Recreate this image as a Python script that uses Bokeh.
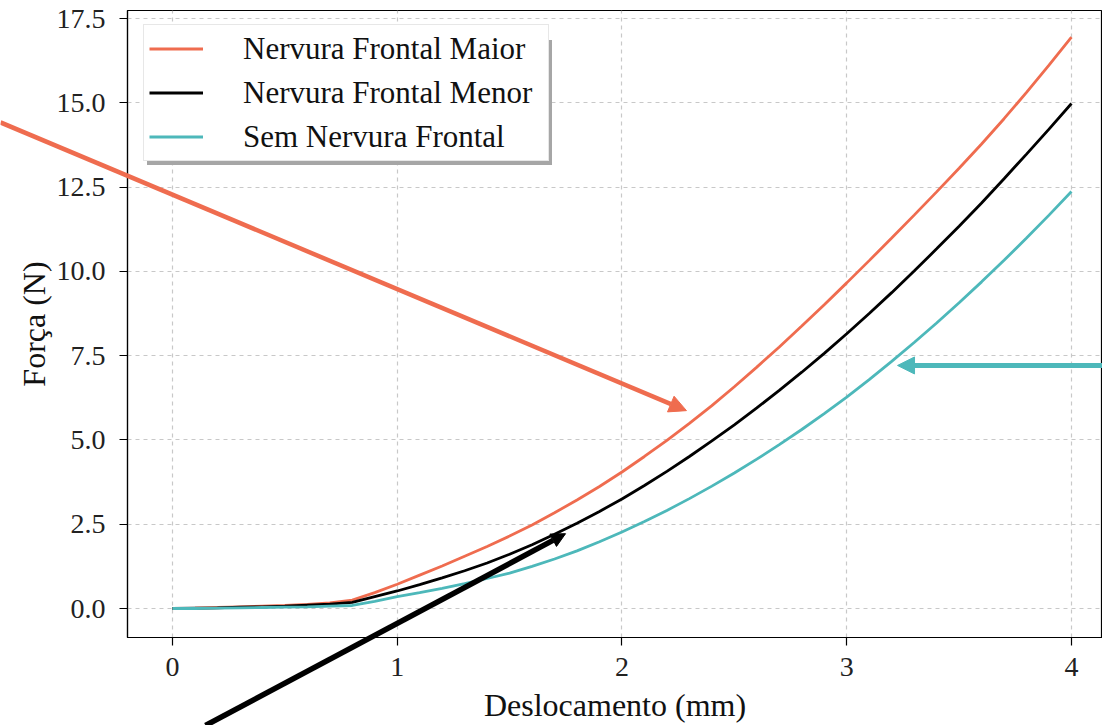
from bokeh.plotting import figure
from bokeh.models import (Arrow, NormalHead, Legend, LegendItem, FixedTicker,
                          NumeralTickFormatter, Range1d, GridBox)
from bokeh.embed import file_html
from bokeh.resources import INLINE

# ---- data ----
deslocamento = [0.0, 0.1, 0.2, 0.3, 0.4, 0.5, 0.6, 0.7, 0.8, 0.9,
                1.0, 1.1, 1.2, 1.3, 1.4, 1.5, 1.6, 1.7, 1.8, 1.9,
                2.0, 2.1, 2.2, 2.3, 2.4, 2.5, 2.6, 2.7, 2.8, 2.9,
                3.0, 3.1, 3.2, 3.3, 3.4, 3.5, 3.6, 3.7, 3.8, 3.9, 4.0]
nervura_maior = [0.00, 0.01, 0.03, 0.05, 0.07, 0.09, 0.12, 0.17, 0.25, 0.47,
                 0.72, 0.99, 1.26, 1.55, 1.84, 2.15, 2.48, 2.84, 3.22, 3.62,
                 4.05, 4.51, 4.99, 5.49, 6.02, 6.58, 7.16, 7.76, 8.38, 9.01,
                 9.66, 10.32, 10.99, 11.67, 12.36, 13.06, 13.78, 14.53, 15.31, 16.12, 16.95]
nervura_menor = [0.00, 0.01, 0.02, 0.04, 0.05, 0.07, 0.10, 0.13, 0.18, 0.35,
                 0.52, 0.71, 0.91, 1.12, 1.35, 1.61, 1.89, 2.20, 2.53, 2.88,
                 3.25, 3.65, 4.07, 4.51, 4.97, 5.45, 5.95, 6.47, 7.01, 7.57,
                 8.15, 8.75, 9.37, 10.01, 10.67, 11.34, 12.03, 12.75, 13.48, 14.22, 14.98]
sem_nervura = [0.00, 0.00, 0.01, 0.02, 0.03, 0.04, 0.05, 0.07, 0.09, 0.21,
               0.35, 0.47, 0.60, 0.74, 0.89, 1.05, 1.25, 1.47, 1.71, 1.98,
               2.27, 2.58, 2.91, 3.26, 3.63, 4.02, 4.43, 4.86, 5.31, 5.78,
               6.27, 6.79, 7.33, 7.89, 8.47, 9.07, 9.69, 10.33, 10.99, 11.67, 12.37]
labels = ["Nervura Frontal Maior", "Nervura Frontal Menor", "Sem Nervura Frontal"]
colors = ["#EF6C4F", "#000000", "#4DB8BA"]
x_ticks = [0, 1, 2, 3, 4]
y_ticks = [0, 2.5, 5, 7.5, 10, 12.5, 15, 17.5]

# annotation arrows: (start x, start y, end x, end y) in data units
arrow_maior = (-0.765, 14.42, 2.287, 5.87)
arrow_menor = (0.147, -3.47, 1.749, 2.22)
arrow_sem = (4.138, 7.21, 3.226, 7.21)

FONT = "Liberation Serif"
W, H = 1102, 725
BL, BR, BT, BB = 127, 0, 10, 88
X0, X1 = -0.2, 4.138
Y0, Y1 = -0.86, 17.74

p = figure(width=W, height=H, output_backend="svg", toolbar_location=None,
           x_range=Range1d(X0, X1), y_range=Range1d(Y0, Y1),
           min_border_left=BL, min_border_right=BR, min_border_top=BT,
           min_border_bottom=BB)
p.frame_align = False
p.outline_line_color = "black"
p.outline_line_width = 1.2

renderers = []
for ys, c in zip([nervura_maior, nervura_menor, sem_nervura], colors):
    renderers.append(p.line(deslocamento, ys, line_color=c, line_width=2.8))

# legend box geometry
LEG_PAD, LEG_SP, LEG_ROW, LEG_OFF = 5, 7, 37, 16
leg_h = 2 * LEG_PAD + 3 * LEG_ROW + 2 * LEG_SP
frame_h = H - BT - BB
legend_style = dict(padding=LEG_PAD, spacing=LEG_SP,
                    glyph_width=54, glyph_height=LEG_ROW, label_height=LEG_ROW,
                    label_standoff=40,
                    label_text_font=FONT, label_text_font_size="31px")

# legend shadow (drawn first, offset by 4 px)
dummies = [p.line([], [], line_alpha=0) for _ in labels]
shadow = Legend(items=[LegendItem(label=" ", renderers=[d]) for d in dummies],
                location=(LEG_OFF + 4, frame_h - LEG_OFF - leg_h - 4),
                label_text_alpha=0, label_width=311,
                border_line_color=None, background_fill_color="#a6a6a6",
                background_fill_alpha=1.0, **legend_style)
p.add_layout(shadow)

legend = Legend(items=[LegendItem(label=l, renderers=[r]) for l, r in zip(labels, renderers)],
                location=(LEG_OFF, frame_h - LEG_OFF - leg_h),
                label_text_color="#111111", label_width=300,
                border_line_color="#d0d0d0", border_line_width=1.5,
                background_fill_color="white", background_fill_alpha=1.0,
                **legend_style)
p.add_layout(legend)

p.xaxis.ticker = FixedTicker(ticks=x_ticks)
p.yaxis.ticker = FixedTicker(ticks=y_ticks)
p.yaxis.formatter = NumeralTickFormatter(format="0.0")
p.xaxis.axis_label = "Deslocamento (mm)"
p.yaxis.axis_label = "Força (N)"
for ax in (p.xaxis, p.yaxis):
    ax.axis_label_text_font = FONT
    ax.axis_label_text_font_style = "normal"
    ax.axis_label_text_font_size = "32px"
    ax.axis_label_text_color = "#111111"
    ax.major_label_text_font = FONT
    ax.major_label_text_font_size = "28px"
    ax.major_label_text_color = "#222222"
    ax.axis_line_color = "black"
    ax.axis_line_width = 1.2
    ax.major_tick_out = 8
    ax.major_tick_in = 0
    ax.major_tick_line_width = 1.2
    ax.minor_tick_out = 0
    ax.minor_tick_in = 0
p.xaxis.major_label_standoff = 12
p.xaxis.axis_label_standoff = 8
p.yaxis.major_label_standoff = 14
p.yaxis.axis_label_standoff = 2

p.grid.grid_line_color = "#c8c8c8"
p.grid.grid_line_dash = "4 4"
p.grid.grid_line_width = 1.2

# transparent overlay with the same data mapping, so the arrows can leave the frame
sx = (W - BL - BR) / (X1 - X0)
sy = (H - BT - BB) / (Y1 - Y0)
ov = figure(width=W, height=H, output_backend="svg", toolbar_location=None,
            x_range=Range1d(X0 - BL / sx, X1 + BR / sx),
            y_range=Range1d(Y0 - BB / sy, Y1 + BT / sy),
            x_axis_type=None, y_axis_type=None,
            min_border_left=0, min_border_right=0, min_border_top=0, min_border_bottom=0)
ov.frame_align = False
ov.outline_line_color = None
ov.background_fill_alpha = 0
ov.border_fill_alpha = 0

for (x0, y0, x1, y1), c, w, s in [(arrow_maior, colors[0], 4.5, 17),
                                  (arrow_menor, colors[1], 5.5, 14),
                                  (arrow_sem, colors[2], 5, 17)]:
    ov.add_layout(Arrow(x_start=x0, y_start=y0, x_end=x1, y_end=y1,
                        line_color=c, line_width=w,
                        end=NormalHead(size=s, fill_color=c, line_color=c, line_width=1)))

layout = GridBox(children=[(p, 0, 0), (ov, 0, 0)])

open("out.html", "w").write(file_html(layout, INLINE))
